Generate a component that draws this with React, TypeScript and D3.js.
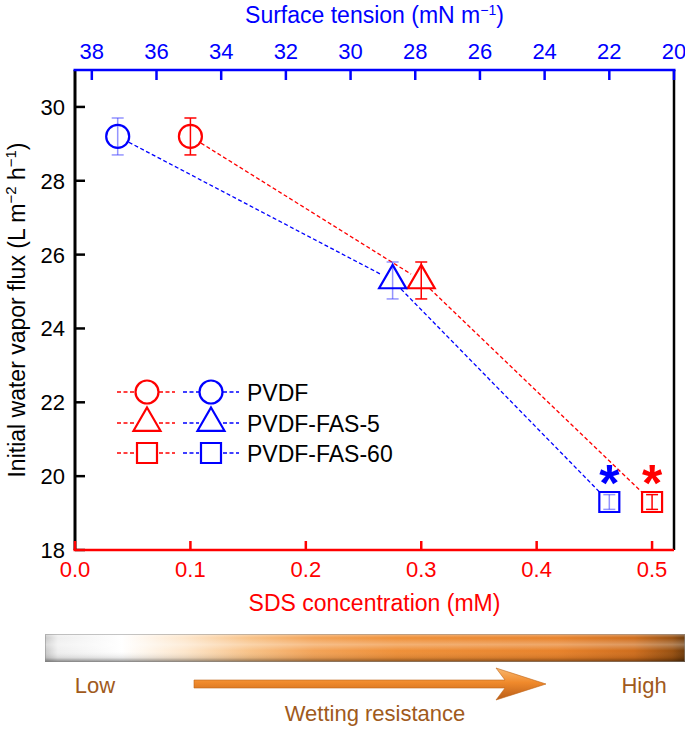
import React from "react";
import * as d3 from "d3";

const seriesNames = ["PVDF", "PVDF-FAS-5", "PVDF-FAS-60"];
const sdsValues = [0.1, 0.3, 0.5];
const tensionValues = [37.2, 28.7, 22.0];
const fluxValues = [29.2, 25.3, 19.3];
const fluxErrors = [0.5, 0.5, 0.2];
const significant = [false, false, true];
const sdsTicks = [0, 0.1, 0.2, 0.3, 0.4, 0.5];
const tensionTicks = [38, 36, 34, 32, 30, 28, 26, 24, 22, 20];
const fluxTicks = [18, 20, 22, 24, 26, 28, 30];

const RED = "#ff0000";
const BLUE = "#0000ff";
const BROWN = "#a05a1c";
const FONT = "'Liberation Sans', Arial, Helvetica, sans-serif";

const W = 685;
const H = 729;
const L = 75, R = 674, T = 70, B = 550;

const x = d3.scaleLinear().domain([0, 0.519]).range([L, R]);
const xt = d3.scaleLinear().domain([38.52, 20]).range([L, R]);
const y = d3.scaleLinear().domain([18, 31]).range([B, T]);

const symbolTypes = [d3.symbolCircle, d3.symbolTriangle, d3.symbolSquare];
const symbolSizes = [Math.PI * 11.5 * 11.5, 315, 400];
const cutRadius = [12.5, 12, 14];
const symPath = (i: number) => d3.symbol().type(symbolTypes[i]).size(symbolSizes[i])() as string;

function Series({ xs, color, errColor }: { xs: number[]; color: string; errColor: string }) {
  const segs = [];
  for (let i = 0; i < xs.length - 1; i++) {
    const x1 = xs[i], y1 = y(fluxValues[i]);
    const x2 = xs[i + 1], y2 = y(fluxValues[i + 1]);
    const dx = x2 - x1, dy = y2 - y1;
    const len = Math.hypot(dx, dy);
    const ux = dx / len, uy = dy / len;
    const a = cutRadius[i], b = cutRadius[i + 1];
    segs.push(
      <line key={i} x1={x1 + ux * a} y1={y1 + uy * a} x2={x2 - ux * b} y2={y2 - uy * b}
        stroke={color} strokeWidth={1.3} strokeDasharray="4,2.5" />
    );
  }
  return (
    <g>
      {segs}
      {xs.map((cx, i) => {
        const cy = y(fluxValues[i]);
        const top = y(fluxValues[i] + fluxErrors[i]);
        const bot = y(fluxValues[i] - fluxErrors[i]);
        return (
          <g key={i}>
            <line x1={cx} x2={cx} y1={top} y2={bot} stroke={errColor} strokeWidth={1.5} />
            <line x1={cx - 6} x2={cx + 6} y1={top} y2={top} stroke={errColor} strokeWidth={1.5} />
            <line x1={cx - 6} x2={cx + 6} y1={bot} y2={bot} stroke={errColor} strokeWidth={1.5} />
            <path d={symPath(i)} transform={`translate(${cx},${cy})`} fill="none" stroke={color} strokeWidth={2.2} />
            {significant[i] && (
              <text x={cx} y={cy - 1} textAnchor="middle" fontSize={52} fontWeight="bold" fill={color} fontFamily={FONT}>*</text>
            )}
          </g>
        );
      })}
    </g>
  );
}

export default function App() {
  const legendRows = [392, 423, 453];
  return (
    <svg width={W} height={H} style={{ position: "absolute", left: 0, top: 0, background: "#fff" }} fontFamily={FONT}>
      <defs>
        <linearGradient id="barH" x1="0" x2="1" y1="0" y2="0">
          <stop offset="0" stopColor="#c8c8c8" />
          <stop offset="0.02" stopColor="#efefef" />
          <stop offset="0.12" stopColor="#ffffff" />
          <stop offset="0.22" stopColor="#fde6cb" />
          <stop offset="0.32" stopColor="#f8c287" />
          <stop offset="0.42" stopColor="#f3a357" />
          <stop offset="0.55" stopColor="#ef9038" />
          <stop offset="0.8" stopColor="#e8822a" />
          <stop offset="0.92" stopColor="#cf6d1c" />
          <stop offset="0.98" stopColor="#985010" />
          <stop offset="1" stopColor="#6e3a0a" />
        </linearGradient>
        <linearGradient id="barV" x1="0" x2="0" y1="0" y2="1">
          <stop offset="0" stopColor="#ffffff" stopOpacity="0.35" />
          <stop offset="0.14" stopColor="#ffffff" stopOpacity="0" />
          <stop offset="0.38" stopColor="#ffffff" stopOpacity="0.3" />
          <stop offset="0.6" stopColor="#ffffff" stopOpacity="0" />
          <stop offset="0.85" stopColor="#000000" stopOpacity="0.1" />
          <stop offset="1" stopColor="#000000" stopOpacity="0.45" />
        </linearGradient>
        <linearGradient id="arrowG" x1="0" x2="0" y1="0" y2="1">
          <stop offset="0" stopColor="#f9b870" />
          <stop offset="0.45" stopColor="#f08a2c" />
          <stop offset="1" stopColor="#b85c18" />
        </linearGradient>
      </defs>

      {/* axis titles */}
      <text x={(L + R) / 2} y={23} textAnchor="middle" fontSize={23} fill={BLUE}>
        Surface tension (mN m<tspan fontSize={14} dy={-8}>−1</tspan><tspan dy={8}>)</tspan>
      </text>
      <text transform={`translate(25,${(T + B) / 2}) rotate(-90)`} textAnchor="middle" fontSize={23} fill="#000">
        Initial water vapor flux (L m<tspan fontSize={15} dy={-9}>−2</tspan><tspan dy={9}> h</tspan><tspan fontSize={15} dy={-9}>−1</tspan><tspan dy={9}>)</tspan>
      </text>
      <text x={(L + R) / 2} y={611} textAnchor="middle" fontSize={23} fill={RED}>SDS concentration (mM)</text>

      {/* left axis */}
      <line x1={L} x2={L} y1={T} y2={B} stroke="#000" strokeWidth={3} />
      {fluxTicks.map((t) => (
        <g key={t}>
          <line x1={L} x2={L + 10} y1={y(t)} y2={y(t)} stroke="#000" strokeWidth={2.5} />
          <text x={65} y={y(t) + 8} textAnchor="end" fontSize={22} fill="#000">{t}</text>
        </g>
      ))}
      {/* right axis */}
      <line x1={R} x2={R} y1={T} y2={B} stroke="#000" strokeWidth={2.5} />
      {/* bottom axis */}
      <line x1={L - 1.5} x2={R} y1={B} y2={B} stroke={RED} strokeWidth={2.5} />
      {sdsTicks.map((t) => (
        <g key={t}>
          <line x1={x(t)} x2={x(t)} y1={B} y2={B - 9} stroke={RED} strokeWidth={2.5} />
          <text x={x(t)} y={577} textAnchor="middle" fontSize={22} fill={RED}>{d3.format(".1f")(t)}</text>
        </g>
      ))}
      {/* top axis */}
      <line x1={L - 1.5} x2={R + 1.5} y1={T} y2={T} stroke={BLUE} strokeWidth={2.5} />
      {tensionTicks.map((t) => (
        <g key={t}>
          <line x1={xt(t)} x2={xt(t)} y1={T} y2={T + 10} stroke={BLUE} strokeWidth={2.5} />
          <text x={xt(t)} y={59} textAnchor="middle" fontSize={22} fill={BLUE}>{t}</text>
        </g>
      ))}

      {/* data */}
      <Series xs={sdsValues.map((v) => x(v))} color={RED} errColor={RED} />
      <Series xs={tensionValues.map((v) => xt(v))} color={BLUE} errColor="rgba(60,60,255,0.55)" />

      {/* legend */}
      {seriesNames.map((name, i) => {
        const ly = legendRows[i];
        return (
          <g key={name}>
            <line x1={117} x2={135} y1={ly} y2={ly} stroke={RED} strokeWidth={1.3} strokeDasharray="4,2.5" />
            <line x1={159} x2={175} y1={ly} y2={ly} stroke={RED} strokeWidth={1.3} strokeDasharray="4,2.5" />
            <path d={symPath(i)} transform={`translate(147,${ly})`} fill="none" stroke={RED} strokeWidth={2.2} />
            <line x1={183} x2={199} y1={ly} y2={ly} stroke={BLUE} strokeWidth={1.3} strokeDasharray="4,2.5" />
            <line x1={223} x2={239} y1={ly} y2={ly} stroke={BLUE} strokeWidth={1.3} strokeDasharray="4,2.5" />
            <path d={symPath(i)} transform={`translate(211,${ly})`} fill="none" stroke={BLUE} strokeWidth={2.2} />
            <text x={247} y={ly + 9} fontSize={23} fill="#000">{name}</text>
          </g>
        );
      })}

      {/* wetting resistance bar */}
      <rect x={45} y={634} width={640} height={28} fill="url(#barH)" />
      <rect x={45} y={634} width={640} height={28} fill="url(#barV)" />
      <rect x={45.5} y={634.5} width={639} height={27} fill="none" stroke="#8a8a8a" strokeOpacity={0.5} strokeWidth={1} />

      <text x={95} y={693} textAnchor="middle" fontSize={22} fill={BROWN}>Low</text>
      <text x={644} y={693} textAnchor="middle" fontSize={22} fill={BROWN}>High</text>
      <path d="M194,680 L505,680 L496,668 L546,684 L496,700 L505,688 L194,688 Z" fill="url(#arrowG)" stroke="#c06418" strokeWidth={0.6} />
      <text x={375} y={721} textAnchor="middle" fontSize={22} fill={BROWN}>Wetting resistance</text>
    </svg>
  );
}
